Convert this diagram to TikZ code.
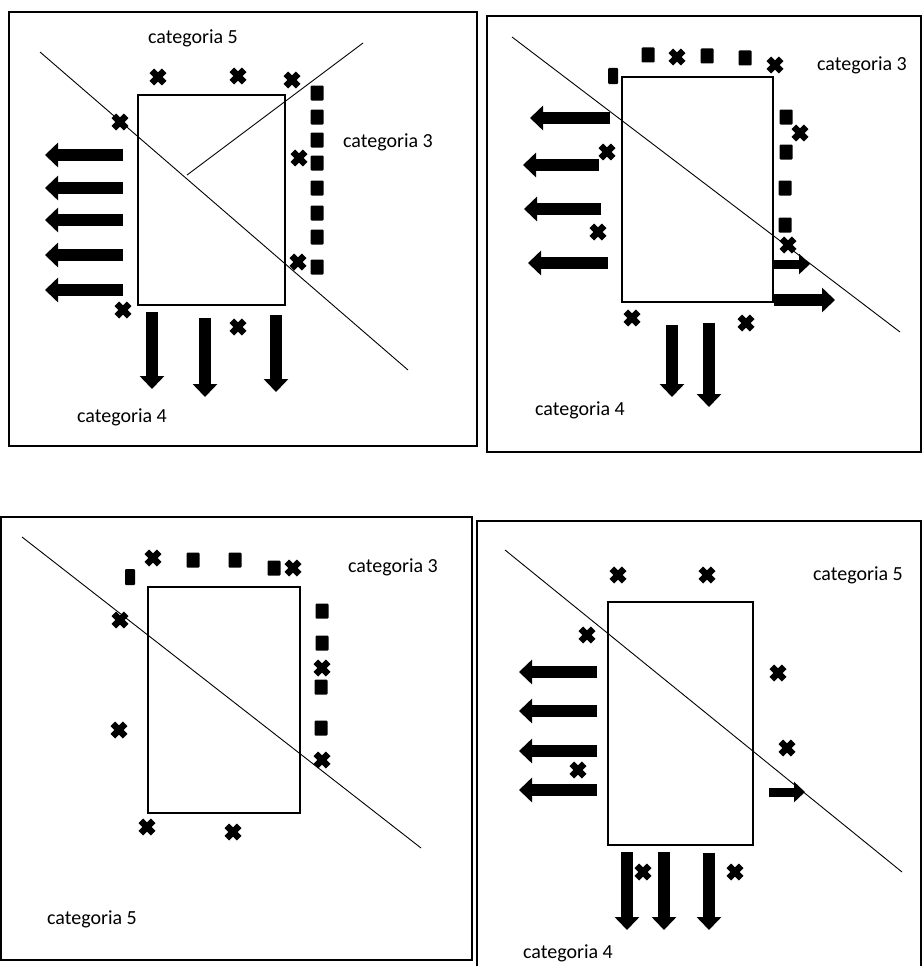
\documentclass[tikz,border=0pt]{standalone}
\usepackage{fontspec}
\setmainfont{Carlito}
\usetikzlibrary{arrows.meta}
\begin{document}
\begin{tikzpicture}[x=1pt,y=-1pt,
  frame/.style={line width=1.8pt},
  box/.style={line width=2.6pt},
  diag/.style={line width=0.9pt},
  blk/.style={line width=11.5pt,-{Triangle[width=24pt,length=13pt]}},
  blks/.style={line width=9pt,-{Triangle[width=20pt,length=11pt]}},
  lab/.style={font=\fontsize{20}{24}\selectfont, inner sep=0pt},
  xm/.pic={\draw[line width=6.5pt] (-6.2,-6.2)--(6.2,6.2) (-6.2,6.2)--(6.2,-6.2);},
  sqm/.pic={\fill[rounded corners=1pt] (-6.5,-7.5) rectangle (6.5,7.5);},
  sqt/.pic={\fill[rounded corners=1pt] (-5,-8) rectangle (5,8);}]
\useasboundingbox (0,0) rectangle (922,966);
\clip (0,0) rectangle (922,966);
% ---------- Panel 1 ----------
\draw[frame] (9,12) rectangle (477,446);
\draw[box] (138,95) rectangle (285,305);
\draw[diag] (40,52) -- (408,370);
\draw[diag] (187,175) -- (363,43);
\node[lab] (p1c5) at (193,38) {categoria 5};
\node[lab] (p1c3) at (388,142) {categoria 3};
\node[lab] (p1c4) at (122,417) {categoria 4};
\foreach \p in {(158,77),(238,76),(292,80),(120,122),(299,158),(298,262),(123,310),(238,327)}
  \pic at \p {xm};
\foreach \y in {93,117,140,163,188,213,237,267}
  \pic at (317,\y) {sqm};
\foreach \y in {155,188,220,255,290}
  \draw[blk] (123,\y) -- (45,\y);
\draw[blk] (152,312) -- (152,389);
\draw[blk] (205,318) -- (205,397);
\draw[blk] (276,315) -- (276,392);
% ---------- Panel 2 ----------
\draw[frame] (487,16) rectangle (921,452);
\draw[box] (622,77) rectangle (773,302);
\draw[diag] (512,37) -- (900,332);
\node[lab] (p2c3) at (862,65) {categoria 3};
\node[lab] (p2c4) at (580,410) {categoria 4};
\pic at (613,76) {sqt};
\foreach \p in {(648,55),(707,56),(745,58),(786,117),(786,152),(785,188),(785,225)}
  \pic at \p {sqm};
\foreach \p in {(677,57),(775,65),(800,133),(607,152),(598,232),(788,245),(632,318),(746,323)}
  \pic at \p {xm};
\draw[blk] (610,118) -- (530,118);
\draw[blk] (599,165) -- (523,165);
\draw[blk] (601,209) -- (524,209);
\draw[blk] (608,263) -- (528,263);
\draw[blks] (774,264) -- (810,264);
\draw[blk] (774,300) -- (835,300);
\draw[blk] (672,325) -- (672,397);
\draw[blk] (709,323) -- (709,407);
% ---------- Panel 3 ----------
\draw[frame] (1,517) rectangle (472,960);
\draw[box] (148,587) rectangle (300,813);
\draw[diag] (22,537) -- (421,848);
\node[lab] (p3c3) at (393,567) {categoria 3};
\node[lab] (p3c5) at (92,919) {categoria 5};
\pic at (130,577) {sqt};
\foreach \p in {(193,560),(235,560),(274,568),(322,611),(322,643),(321,687),(321,728)}
  \pic at \p {sqm};
\foreach \p in {(153,558),(293,568),(120,620),(322,668),(119,730),(322,760),(147,827),(233,832)}
  \pic at \p {xm};
% ---------- Panel 4 ----------
\draw[frame] (477,521) rectangle (921,975);
\draw[box] (608,602) rectangle (753,845);
\draw[diag] (505,550) -- (902,872);
\node[lab] (p4c5) at (858,575) {categoria 5};
\node[lab] (p4c4) at (568,953) {categoria 4};
\foreach \p in {(618,575),(707,575),(587,635),(778,673),(787,748),(578,770),(643,872),(735,872)}
  \pic at \p {xm};
\foreach \y in {672,711,751,790}
  \draw[blk] (597,\y) -- (519,\y);
\draw[blks] (769,792) -- (805,792);
\draw[blk] (627,852) -- (627,930);
\draw[blk] (664,852) -- (664,930);
\draw[blk] (709,853) -- (709,930);
\end{tikzpicture}
\end{document}
